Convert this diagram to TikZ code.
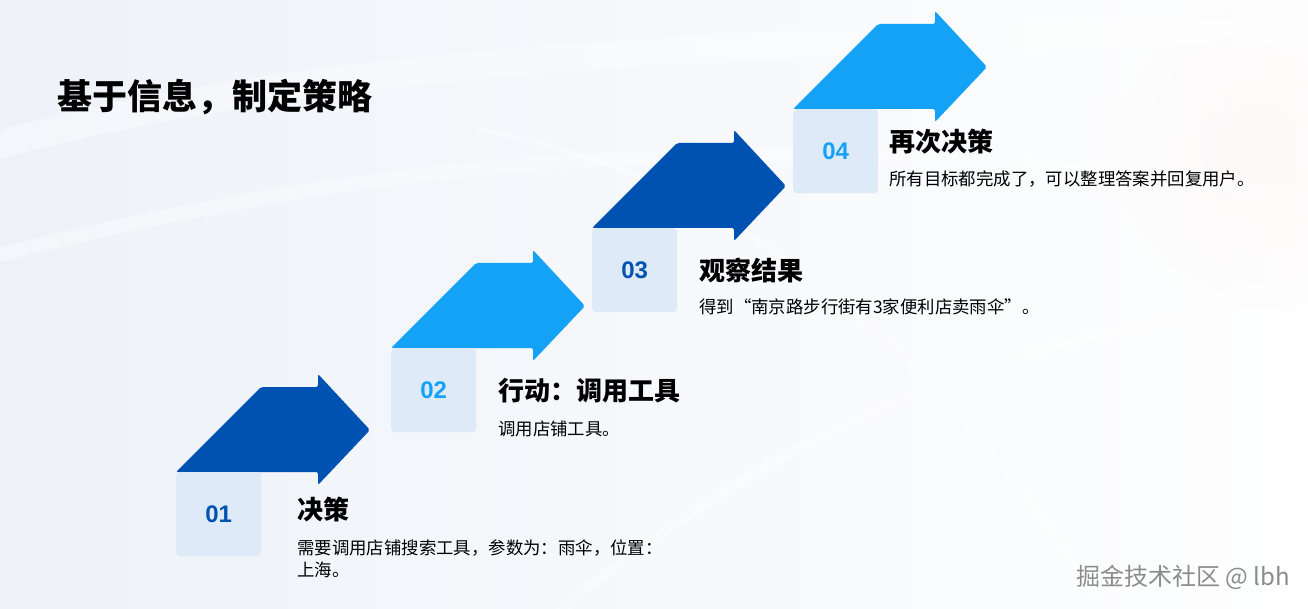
\documentclass[tikz,border=0pt]{standalone}
\usepackage{fontspec}
\setmainfont{Liberation Sans}
\newfontfamily\cjk{Noto Sans CJK SC}
\usetikzlibrary{positioning,calc}
\definecolor{DeepBlue}{HTML}{0052B2}
\definecolor{SkyBlue}{HTML}{14A2F7}
\definecolor{PaleBox}{HTML}{DFEAF8}
\definecolor{Canvas}{HTML}{EEF2F8}
\definecolor{MarkGray}{HTML}{8C8C8C}
\tikzset{
 numbox/.style={fill=PaleBox,rounded corners=4pt,minimum width=85pt,minimum height=84pt,inner sep=0pt,anchor=north west,font=\bfseries\fontsize{24}{24}\selectfont},
 steptitle/.style={anchor=west,inner sep=0pt,font=\cjk\bfseries\fontsize{26}{30}\selectfont},
 stepnote/.style={anchor=north west,inner sep=0pt,align=left,font=\cjk\fontsize{17.4}{22}\selectfont},
 swoosh/.style={white,line cap=round,opacity=0.35}
}
\begin{document}
\begin{tikzpicture}[x=1pt,y=-1pt]
\useasboundingbox (0,0) rectangle (1308,609);
% background
\shade[left color=Canvas,right color=white!94!Canvas] (0,0) rectangle (1308,609);
\shade[inner color=red!5,outer color=white!94!Canvas,opacity=0.45] (1260,150) circle (170);
\draw[swoosh,line width=28pt] (-20,150) .. controls (300,60) and (700,40) .. (1330,30);
\draw[swoosh,line width=14pt] (-20,260) .. controls (400,150) and (800,120) .. (1330,200);
\draw[swoosh,line width=10pt] (560,609) .. controls (800,420) and (1000,330) .. (1330,300);
\draw[swoosh,line width=6pt] (480,130) .. controls (700,170) and (900,300) .. (1100,600);
% page title
\node[anchor=west,inner sep=0pt,font=\cjk\bfseries\fontsize{35}{40}\selectfont] (head) at (57,97) {基于信息，制定策略};
% steps: left/top/colour/number
\foreach \L/\T/\c/\n in {176/472/DeepBlue/01,391/348/SkyBlue/02,592/228/DeepBlue/03,793/109/SkyBlue/04}{
 \fill[\c,rounded corners=2pt] (\L,\T) -- (\L+85,\T-85) -- (\L+142,\T-85) -- (\L+142,\T-98)
  -- (\L+194,\T-42) -- (\L+142,\T+13) -- (\L+142,\T) -- cycle;
 \node[numbox,text=\c] (box\n) at (\L,\T) {\n};
}
\node[steptitle] (t01) at (297,510) {决策};
\node[stepnote] (d01) at (297,540) {需要调用店铺搜索工具，参数为：雨伞，位置：\\上海。};
\node[steptitle] (t02) at (498,391) {行动：调用工具};
\node[stepnote] (d02) at (498,421) {调用店铺工具。};
\node[steptitle] (t03) at (699,270) {观察结果};
\node[stepnote] (d03) at (699,299) {得到“南京路步行街有3家便利店卖雨伞”。};
\node[steptitle] (t04) at (889,142) {再次决策};
\node[stepnote] (d04) at (889,171) {所有目标都完成了，可以整理答案并回复用户。};
% watermark
\node[anchor=east,inner sep=0pt,text=white,font=\cjk\fontsize{24}{26}\selectfont] (markshade) at (1291,578) {掘金技术社区 @ lbh};
\node[anchor=east,inner sep=0pt,text=MarkGray,font=\cjk\fontsize{24}{26}\selectfont] (mark) at (1290,577) {掘金技术社区 @ lbh};
\end{tikzpicture}
\end{document}
